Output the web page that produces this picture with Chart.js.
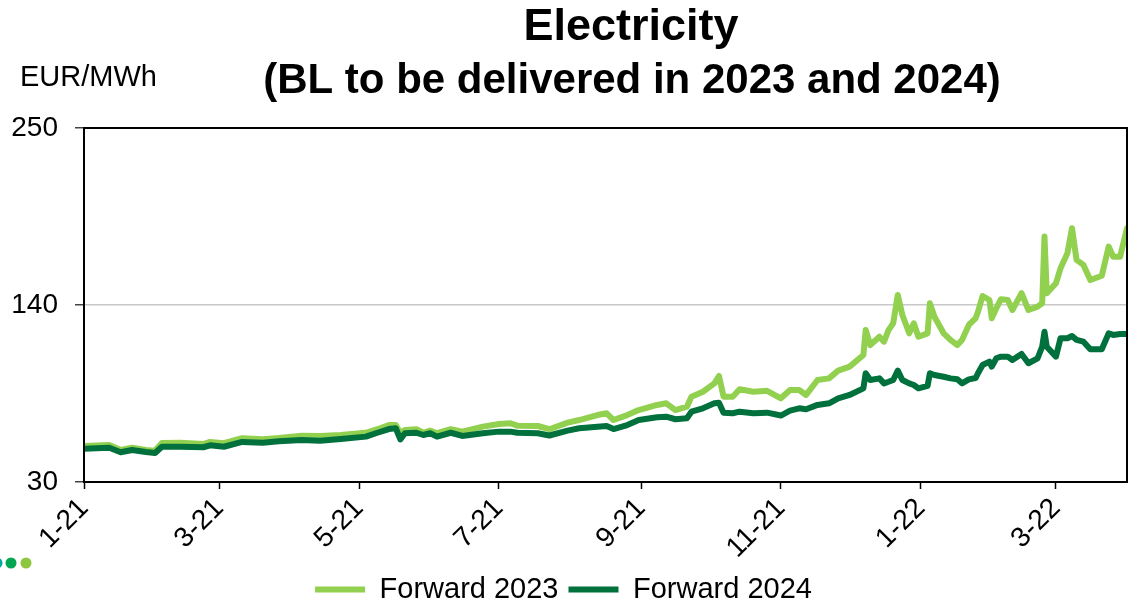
<!DOCTYPE html>
<html>
<head>
<meta charset="utf-8">
<script src="https://cdn.jsdelivr.net/npm/chart.js@4.4.1/dist/chart.umd.min.js"></script>
<style>
  html, body { margin: 0; padding: 0; background: #fff; }
</style>
</head>
<body>
<canvas id="chart" width="1145" height="606"></canvas>
<script>
// trading dates
const dates = [
  '2021-01-01','2021-01-12','2021-01-17','2021-01-22','2021-01-28','2021-02-01','2021-02-04','2021-02-12',
  '2021-02-22','2021-02-25','2021-03-03','2021-03-11','2021-03-20','2021-03-27','2021-04-06','2021-04-14',
  '2021-04-23','2021-05-04','2021-05-09','2021-05-14','2021-05-17','2021-05-19','2021-05-21','2021-05-26',
  '2021-05-29','2021-06-01','2021-06-04','2021-06-10','2021-06-15','2021-06-24','2021-07-01','2021-07-06',
  '2021-07-09','2021-07-18','2021-07-23','2021-07-31','2021-08-05','2021-08-13','2021-08-17','2021-08-20',
  '2021-08-26','2021-08-31','2021-09-08','2021-09-12','2021-09-16','2021-09-21','2021-09-23','2021-09-28',
  '2021-10-03','2021-10-05','2021-10-07','2021-10-11','2021-10-14','2021-10-20','2021-10-26','2021-11-01',
  '2021-11-05','2021-11-09','2021-11-12','2021-11-17','2021-11-22','2021-11-26','2021-12-01','2021-12-07',
  '2021-12-08','2021-12-10','2021-12-14','2021-12-16','2021-12-18','2021-12-20','2021-12-22','2021-12-24',
  '2021-12-27','2021-12-29','2021-12-31','2022-01-04','2022-01-05','2022-01-07','2022-01-11','2022-01-14',
  '2022-01-17','2022-01-19','2022-01-22','2022-01-25','2022-01-26','2022-01-28','2022-01-31','2022-02-01',
  '2022-02-03','2022-02-05','2022-02-08','2022-02-10','2022-02-14','2022-02-17','2022-02-21','2022-02-23',
  '2022-02-24','2022-02-25','2022-03-01','2022-03-03','2022-03-06','2022-03-08','2022-03-10','2022-03-13',
  '2022-03-16','2022-03-21','2022-03-24','2022-03-26','2022-03-29','2022-04-01'
];

const forward2023 = [
  52.4, 53.0, 49.9, 51.3, 49.9, 49.5, 54.2, 54.4,
  53.6, 54.9, 54.1, 57.2, 56.5, 57.3, 58.8, 58.6,
  59.2, 60.6, 62.8, 65.4, 65.4, 60.6, 62.3, 62.8,
  60.6, 61.9, 60.3, 62.8, 61.3, 64.4, 66.0, 66.5,
  65.0, 64.8, 62.8, 66.9, 68.5, 71.6, 72.7, 68.5,
  71.6, 74.7, 77.9, 78.9, 74.7, 76.8, 83.0, 86.1,
  91.3, 95.9, 83.0, 83.0, 87.6, 86.1, 86.7, 82.0,
  87.2, 87.2, 84.1, 93.4, 94.4, 99.2, 101.7, 108.9,
  124.5, 115.1, 120.3, 117.2, 124.5, 128.6, 146.2, 133.8,
  122.4, 128.6, 120.3, 122.4, 141.1, 132.7, 122.4, 118.3,
  115.1, 118.3, 127.6, 131.9, 135.8, 145.6, 143.1, 131.7,
  138.0, 143.6, 143.1, 136.9, 147.3, 136.9, 139.0, 141.1,
  182.5, 147.3, 153.5, 162.8, 172.1, 187.7, 168.0, 164.9,
  155.5, 158.2, 176.3, 170.0, 170.0, 187.7
];

const forward2024 = [
  50.7, 51.3, 48.5, 49.9, 48.6, 48.0, 51.9, 51.9,
  51.6, 52.8, 51.9, 54.9, 54.4, 55.3, 56.1, 55.7,
  56.7, 58.2, 60.6, 62.9, 63.4, 56.5, 60.3, 60.6,
  59.2, 60.3, 58.2, 60.6, 58.6, 60.3, 61.3, 61.3,
  60.6, 60.3, 58.9, 61.9, 63.4, 64.4, 64.8, 62.9,
  65.4, 68.5, 70.2, 70.6, 69.0, 69.6, 73.7, 75.8,
  78.9, 79.3, 73.1, 72.7, 73.7, 72.7, 73.1, 71.3,
  74.3, 75.8, 75.2, 77.9, 78.9, 82.0, 84.1, 88.2,
  97.6, 93.4, 94.4, 91.3, 92.3, 93.4, 99.2, 93.4,
  91.3, 90.3, 88.2, 89.7, 97.6, 96.5, 95.4, 94.4,
  93.8, 91.3, 93.8, 94.6, 97.6, 102.7, 104.8, 101.7,
  106.9, 107.9, 107.9, 105.8, 109.6, 103.8, 106.9, 114.1,
  123.4, 114.1, 107.9, 119.3, 119.3, 120.7, 118.3, 117.2,
  112.5, 112.5, 122.4, 121.4, 122.0, 122.0
];

const tickDates = ['2021-01-01','2021-03-01','2021-05-01','2021-07-01','2021-09-01','2021-11-01','2022-01-01','2022-03-01'];
const tickLabels = ['1-21','3-21','5-21','7-21','9-21','11-21','1-22','3-22'];
const yTicks = [30, 140, 250];

const start = Date.parse('2021-01-01');
const dayOf = d => (Date.parse(d) - start) / 86400000;

const FONT = "'Liberation Sans', Arial, sans-serif";
Chart.defaults.font.family = FONT;
Chart.defaults.color = '#000';

// frame, titles and the small dots
const decor = {
  id: 'decor',
  afterDraw(chart) {
    const { ctx, chartArea: a } = chart;
    ctx.save();
    ctx.strokeStyle = '#000';
    ctx.lineWidth = 2;
    ctx.strokeRect(a.left, a.top, a.right - a.left, a.bottom - a.top);

    ctx.fillStyle = '#000';
    ctx.textAlign = 'center';
    ctx.textBaseline = 'alphabetic';
    ctx.font = 'bold 45px ' + FONT;
    ctx.fillText('Electricity', 631, 40);
    ctx.font = 'bold 42px ' + FONT;
    ctx.fillText('(BL to be delivered in 2023 and 2024)', 632, 93);

    ctx.textAlign = 'left';
    ctx.font = '29px ' + FONT;
    ctx.fillText('EUR/MWh', 20, 86);

    [['#00a99d', -3], ['#00a651', 11], ['#8dc63f', 26]].forEach(([c, x]) => {
      ctx.fillStyle = c;
      ctx.beginPath();
      ctx.arc(x, 563, 5.5, 0, Math.PI * 2);
      ctx.fill();
    });
    ctx.restore();
  }
};

new Chart(document.getElementById('chart'), {
  type: 'line',
  data: {
    datasets: [{
      label: 'Forward 2023',
      data: dates.map((d, i) => ({ x: dayOf(d), y: forward2023[i] })),
      borderColor: '#92d050',
      backgroundColor: '#92d050',
      borderWidth: 6,
      borderCapStyle: 'round',
      borderJoinStyle: 'round',
      pointRadius: 0,
      tension: 0,
      order: 1
    }, {
      label: 'Forward 2024',
      data: dates.map((d, i) => ({ x: dayOf(d), y: forward2024[i] })),
      borderColor: '#00703c',
      backgroundColor: '#00703c',
      borderWidth: 6,
      borderCapStyle: 'round',
      borderJoinStyle: 'round',
      pointRadius: 0,
      tension: 0,
      order: 0
    }]
  },
  options: {
    responsive: false,
    animation: false,
    layout: { padding: { top: 128, right: 18, bottom: -8, left: 0 } },
    plugins: {
      title: { display: false },
      tooltip: { enabled: false },
      legend: {
        position: 'bottom',
        labels: {
          usePointStyle: true,
          pointStyle: 'line',
          pointStyleWidth: 50,
          font: { size: 29 },
          color: '#000',
          padding: 10,
          sort: (a, b) => a.datasetIndex - b.datasetIndex
        }
      }
    },
    scales: {
      x: {
        type: 'linear',
        min: 0,
        max: dayOf('2022-04-01'),
        afterBuildTicks: s => { s.ticks = tickDates.map(d => ({ value: dayOf(d) })); },
        afterFit: s => { s.height = 83; },
        ticks: {
          autoSkip: false,
          minRotation: 45,
          maxRotation: 45,
          font: { size: 28 },
          color: '#000',
          callback: (v, i) => tickLabels[i]
        },
        grid: { drawOnChartArea: false, tickLength: 7, tickColor: '#000', tickWidth: 1.5 },
        border: { display: false }
      },
      y: {
        min: 30,
        max: 250,
        afterBuildTicks: s => { s.ticks = yTicks.map(v => ({ value: v })); },
        afterFit: s => { s.width = 84; },
        ticks: { font: { size: 28 }, color: '#000', padding: 17 },
        grid: {
          color: c => c.tick && c.tick.value === 140 ? '#c8c8c8' : 'rgba(0,0,0,0)',
          lineWidth: 1.5,
          tickLength: 9,
          tickColor: '#444'
        },
        border: { display: false }
      }
    }
  },
  plugins: [decor]
});
</script>
</body>
</html>
